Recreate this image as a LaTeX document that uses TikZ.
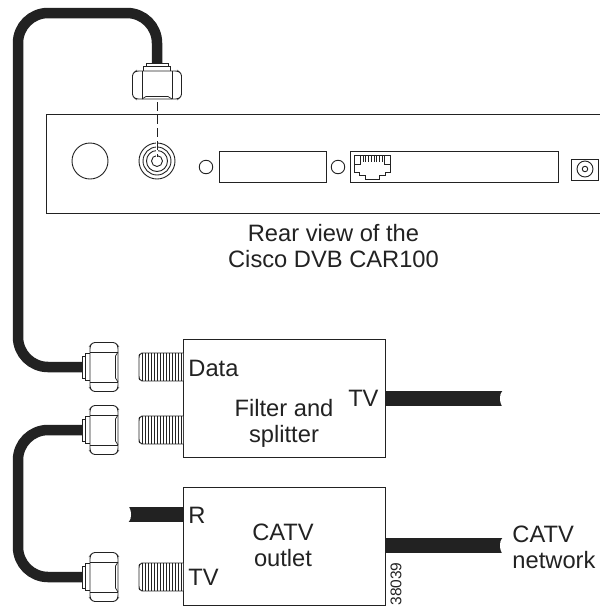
\documentclass[tikz,border=0pt]{standalone}
\usepackage{fontspec}
\setmainfont{Liberation Sans}
\usepackage{tikz}
\usetikzlibrary{positioning}
\usepackage{xcolor}
\definecolor{ink}{HTML}{222222}

\begin{document}
\begin{tikzpicture}[
        x=1pt, y=-1pt,
        line width=0.9pt, draw=ink,
        box/.style={rectangle, draw=ink, line width=1pt, inner sep=0pt, anchor=north west},
        hole/.style={circle, draw=ink, line width=0.9pt, inner sep=0pt},
        cable/.style={draw=ink, line width=10.5pt, rounded corners=30pt},
        feed/.style={draw=ink, line width=15pt},
        lbl/.style={font=\fontsize{23.7}{26}\selectfont, text=ink, align=center, inner sep=0pt},
        cut/.pic={
          \fill[white] (0.5,-9) .. controls (-3,-4) .. (-3,0) .. controls (-3,3) .. (-0.5,9) -- (4,9) -- (4,-9) -- cycle;
        },
        fitting/.pic={
          \coordinate (-tail) at (-22,0);
          \coordinate (-nose) at (17,0);
          \draw[line width=0.8pt, fill=white] (-21.5,-11) rectangle (-19,11);
          \draw[line width=0.8pt, fill=white] (-19,-13.5) rectangle (-14,13.5);
          \draw[line width=0.9pt, fill=white, rounded corners=2.5pt] (-14,-21) -- (-11.5,-24.5) -- (11.5,-24.5) -- (14,-21) -- (14,21) -- (11.5,24.5) -- (-11.5,24.5) -- (-14,21) -- cycle;
          \draw[line width=0.9pt] (-14,-15) -- (14,-15) (-14,15) -- (14,15);
          \draw[line width=0.7pt] (14,-15) .. controls (12,-13) .. (11.5,-11) -- (11.5,11) .. controls (12,13) .. (14,15);
        },
        stub/.pic={
          \draw[line width=0.9pt, fill=white, rounded corners=2pt] (44,-14) -- (1,-14) -- (0,-11) -- (0,11) -- (1,14) -- (44,14);
          \foreach \i in {0,...,13} {
            \draw[line width=0.45pt] (3+\i*3,-14) -- (3+\i*3,14);
          }
        }
      ]
      \useasboundingbox (0,0) rectangle (600,606);
      \fill[white] (0,0) rectangle (600,606);

      \node[box, minimum width=564pt, minimum height=99pt] (panel) at (46,114) {};
      \node[hole, minimum size=36pt] (lamp) at (90,161) {};
      \node[hole, minimum size=36pt] (coax) at (157,161) {};
      \node[hole, minimum size=28pt] (coaxb) at (157,161) {};
      \node[hole, minimum size=21pt] (coaxc) at (157,161) {};
      \node[hole, minimum size=11pt] (coaxd) at (157,161) {};
      \node[hole, minimum size=13.5pt] (leda) at (206,167) {};
      \node[box, minimum width=107pt, minimum height=31pt] (slota) at (219,151) {};
      \node[hole, minimum size=13.5pt] (ledb) at (338,167) {};
      \node[box, minimum width=208pt, minimum height=31pt] (slotb) at (350,151) {};
      \node[box, minimum width=27pt, minimum height=21pt] (power) at (571,159) {};
      \node[hole, minimum size=16pt] (powera) at (585,169) {};
      \node[hole, minimum size=5.5pt] (powerb) at (585,169) {};

      \begin{scope}[shift={(354.5,155)}, line width=0.8pt]
        \draw (0,0) -- (36,0) -- (36,17) -- (31,17) -- (31,20) -- (25,20) -- (25,24.5)
           -- (11,24.5) -- (11,20) -- (5,20) -- (5,17) -- (0,17) -- cycle;
        \draw (0,0) rectangle (6,9) (30,0) rectangle (36,9);
        \foreach \i in {0,...,7} {
          \draw[line width=0.6pt] (8.5+\i*2.7,0) -- (8.5+\i*2.7,7);
        }
      \end{scope}

      \node[lbl, below=9.5pt of panel.south, xshift=5pt] (rear) {Rear view of the\\Cisco DVB CAR100};

      \node[box, minimum width=202pt, minimum height=118pt] (filter) at (183,339) {};
      \node[box, minimum width=202pt, minimum height=118pt] (outlet) at (183,487) {};

      \pic[rotate=-90] (top) at (157,85) {fitting};
      \pic (data) at (104,367) {fitting};
      \pic (split) at (104,430) {fitting};
      \pic (catv) at (104,577) {fitting};

      \pic (stuba) at (139,367) {stub};
      \pic (stubb) at (139,430) {stub};
      \pic (stubc) at (139,577) {stub};

      \coordinate (bendtop) at (18,13);
      \coordinate (bendlow) at (18,430);
      \draw[cable] (top-tail) |- (bendtop) |- (data-tail);
      \draw[cable] (split-tail) -- (bendlow) |- (catv-tail);

      \coordinate (coaxtip) at (157,157);
      \draw[white, line width=2.5pt] (coaxtip) -- ++(0,-18);
      \draw[dashed, dash pattern=on 9pt off 4pt, line width=0.8pt] (top-nose) -- (coaxtip);

      \coordinate (tvend) at (503,398.5);
      \coordinate (netend) at (503,545.5);
      \coordinate (rend) at (128,514.5);
      \draw[feed] (filter.east |- tvend) -- (tvend);
      \draw[feed] (outlet.east |- netend) -- (netend);
      \draw[feed] (outlet.west |- rend) -- (rend);
      \pic at (tvend) {cut};
      \pic at (netend) {cut};
      \pic[rotate=180] at (rend) {cut};

      \node[lbl, anchor=west] (datalbl) at (188,368) {Data};
      \node[lbl] (filterlbl) at (284,423) {Filter and\\splitter};
      \node[lbl, anchor=east] (tvlbl) at (379,398) {TV};
      \node[lbl, anchor=west] (rlbl) at (188,515) {R};
      \node[lbl] (outletlbl) at (283,545.5) {CATV\\outlet};
      \node[lbl, anchor=west] (tvinlbl) at (188,577) {TV};
      \node[lbl, align=left, anchor=west] (netlbl) at (512,547) {CATV\\network};
      \node[rotate=90, anchor=west, font=\fontsize{15.5}{16}\selectfont, text=ink, inner sep=0pt] (figno) at (396,606) {38039};
    \end{tikzpicture}
\end{document}
